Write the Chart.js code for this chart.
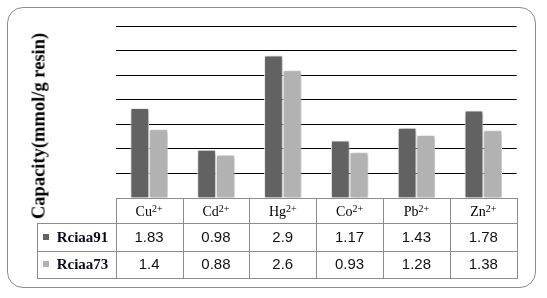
<!DOCTYPE html>
<html><head><meta charset="utf-8">
<script src="https://cdn.jsdelivr.net/npm/chart.js@4/dist/chart.umd.min.js"></script>
<style>
html,body{margin:0;padding:0;background:#fff;}
#wrap{position:relative;width:547px;height:298px;overflow:hidden;}
#frame{position:absolute;left:7px;top:7px;width:529px;height:281px;border:1px solid #8c8c8c;border-radius:16px;box-sizing:border-box;}
canvas{position:absolute;left:0;top:0;}
#ytitle{position:absolute;left:39px;top:126px;transform:translate(-50%,-50%) rotate(-90deg);font-family:"Liberation Serif","DejaVu Serif",serif;font-weight:bold;font-size:18.5px;white-space:nowrap;color:#000;}
.cell{position:absolute;box-sizing:border-box;text-align:center;white-space:nowrap;}
.hdr{font-family:"Liberation Serif","DejaVu Serif",serif;font-size:14px;color:#000;}
.val{font-family:"Liberation Sans",Arial,sans-serif;font-size:15px;color:#111;}
.lab{font-family:"Liberation Serif","DejaVu Serif",serif;font-weight:bold;font-size:15px;color:#0a0a1e;text-align:left;padding-left:6px;}
.sw{display:inline-block;width:6px;height:6px;margin-right:8px;vertical-align:2px;}
.cell sup{font-size:10px;vertical-align:4.5px;line-height:0;}
.hl{position:absolute;height:1px;background:#8c8c8c;}
.vl{position:absolute;width:1px;background:#8c8c8c;}
</style></head>
<body><div id="wrap"><div id="frame"></div><canvas id="c" width="547" height="298"></canvas><div id="ytitle">Capacity(mmol/g resin)</div></div>
<script>
const ions = ['Cu','Cd','Hg','Co','Pb','Zn'];
const charge = '2+';
const seriesNames = ['Rciaa91','Rciaa73'];
const rciaa91 = [1.83, 0.98, 2.9, 1.17, 1.43, 1.78];
const rciaa73 = [1.4, 0.88, 2.6, 0.93, 1.28, 1.38];
const seriesColors = ['#626262','#b2b2b2'];

const shadowPlugin = {
  id:'barShadow',
  beforeDatasetsDraw(chart){const c=chart.ctx;c.save();c.shadowColor='rgba(0,0,0,0.35)';c.shadowBlur=4;c.shadowOffsetX=1;c.shadowOffsetY=1;},
  afterDatasetsDraw(chart){chart.ctx.restore();}
};

const chart = new Chart(document.getElementById('c'), {
  type:'bar',
  data:{labels:ions.map(s=>s+charge),datasets:[
    {label:seriesNames[0],data:rciaa91,backgroundColor:seriesColors[0],borderColor:'#ffffff',borderWidth:1},
    {label:seriesNames[1],data:rciaa73,backgroundColor:seriesColors[1],borderColor:'#ffffff',borderWidth:1}
  ]},
  options:{
    responsive:false,animation:false,devicePixelRatio:1,
    layout:{padding:{left:115.7,right:30.3,top:26,bottom:100}},
    plugins:{legend:{display:false},tooltip:{enabled:false}},
    datasets:{bar:{categoryPercentage:0.56,barPercentage:1}},
    scales:{
      x:{display:false},
      y:{min:0,max:3.5,ticks:{display:false,stepSize:0.5},border:{display:false},
         grid:{color:c=>c.tick.value===0?'#8c8c8c':'#000',lineWidth:1,drawTicks:false},
         afterFit(s){s.width=0;}}
    }
  },
  plugins:[shadowPlugin]
});

(function(){
  const wrap=document.getElementById('wrap');
  const ca=chart.chartArea, xs=chart.scales.x;
  const n=ions.length;
  const step=(ca.right-ca.left)/n;
  const x0=ca.left, top=ca.bottom;
  const rows=[top, top+25, top+53, top+79.5];
  const labL=36.7;
  function add(cls,html,l,t,w,h){const d=document.createElement('div');d.className='cell '+cls;d.innerHTML=html;d.style.left=l+'px';d.style.top=t+'px';d.style.width=w+'px';d.style.height=h+'px';d.style.lineHeight=h+'px';wrap.appendChild(d);}
  ions.forEach((ion,i)=>{
    const cx=xs.getPixelForValue(i);
    const l=cx-step/2;
    add('hdr',ion+'<sup>'+charge+'</sup>',l,rows[0]+1,step,rows[1]-rows[0]);
    add('val',String(rciaa91[i]),l,rows[1],step,rows[2]-rows[1]);
    add('val',String(rciaa73[i]),l,rows[2],step,rows[3]-rows[2]);
  });
  add('lab','<span class="sw" style="background:'+seriesColors[0]+'"></span>'+seriesNames[0],labL,rows[1],x0-labL,rows[2]-rows[1]);
  add('lab','<span class="sw" style="background:'+seriesColors[1]+'"></span>'+seriesNames[1],labL,rows[2],x0-labL,rows[3]-rows[2]);
  function hl(l,t,w){const d=document.createElement('div');d.className='hl';d.style.left=l+'px';d.style.top=t+'px';d.style.width=w+'px';wrap.appendChild(d);}
  function vl(l,t,h){const d=document.createElement('div');d.className='vl';d.style.left=l+'px';d.style.top=t+'px';d.style.height=h+'px';wrap.appendChild(d);}
  hl(x0,Math.round(rows[0]),ca.right-x0+1);
  hl(labL,Math.round(rows[1]),ca.right-labL+1);
  hl(labL,Math.round(rows[2]),ca.right-labL+1);
  hl(labL,Math.round(rows[3]),ca.right-labL+1);
  for(let i=0;i<=n;i++){vl(Math.round(x0+i*step),Math.round(rows[0]),rows[3]-rows[0]);}
  vl(Math.round(labL),Math.round(rows[1]),rows[3]-rows[1]);
})();
</script></body></html>
